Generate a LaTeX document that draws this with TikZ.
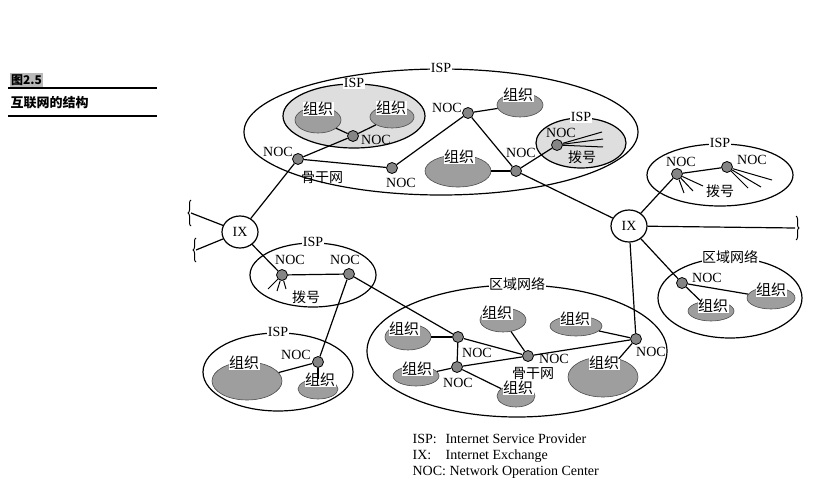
\documentclass[tikz,border=0pt]{standalone}
\usepackage{fontspec}
\setmainfont{Liberation Serif}
\newfontfamily\cjk{Noto Sans CJK SC}
\usetikzlibrary{shapes.geometric, decorations.pathreplacing, positioning}
\definecolor{orggray}{gray}{0.62}
\definecolor{ispgray}{gray}{0.87}
\definecolor{nocgray}{gray}{0.52}

\begin{document}
\begin{tikzpicture}[
    x=1pt, y=-1pt,
    line width=1.2pt,
    area/.style 2 args={draw, ellipse, inner sep=0pt, minimum width=#1pt, minimum height=#2pt},
    org/.style 2 args={draw=black!70, line width=0.6pt, ellipse, fill=orggray, inner sep=0pt, minimum width=#1pt, minimum height=#2pt},
    noc/.style={draw, circle, line width=0.8pt, fill=nocgray, minimum size=11pt, inner sep=0pt},
    ix/.style={draw, ellipse, minimum width=36pt, minimum height=32pt, inner sep=0pt, font=\fontsize{14}{16}\selectfont},
    lab/.style={font=\fontsize{14}{16}\selectfont, inner sep=0.5pt},
    zh/.style={font=\cjk\fontsize{14}{16}\selectfont, inner sep=0.5pt},
    orglab/.style={font=\cjk\fontsize{15}{17}\selectfont, fill=white, inner sep=0.5pt},
    tag/.style={fill=white, inner xsep=3pt, inner ysep=0.5pt},
    dial/.style={line width=1pt},
    cut/.style={decorate, decoration={brace, amplitude=3pt}, line width=1pt},
    legend/.style={font=\fontsize{14}{15}\selectfont, anchor=west, inner sep=0pt, text height=10pt, text depth=3pt}
]
    \useasboundingbox (0,0) rectangle (828,487);

    % Caption
    \node[fill=gray!55, inner sep=1.5pt, anchor=west, font=\cjk\bfseries\fontsize{12}{14}\selectfont] (fignum) at (9,80) {图2.5};
    \node[anchor=west, inner sep=0pt, font=\cjk\bfseries\fontsize{13}{15}\selectfont] (figtitle) at (10,103) {互联网的结构};
    \draw (8,88) -- (157,88);
    \draw (8,116) -- (157,116);

    % Backbone ISP (top)
    \node[area={394}{126}] (ispTop) at (441,132) {};
    \node[tag, lab] at (ispTop.north) {ISP};
    \node[area={142}{64}, fill=ispgray] (ispIn1) at (354,116) {};
    \node[tag, lab, fill=white] at (ispIn1.north) {ISP};
    \node[area={90}{50}, fill=ispgray] (ispIn2) at (581,143) {};
    \node[tag, lab] at (ispIn2.north) {ISP};

    \node[org={46}{26}] (orgA1) at (318,120) {};
    \node[orglab] at (318,109) {组织};
    \node[org={44}{22}] (orgA2) at (392,117) {};
    \node[orglab] at (391,108) {组织};
    \node[org={46}{24}] (orgA3) at (520,105) {};
    \node[orglab] at (518,95) {组织};
    \node[org={66}{32}] (orgA4) at (458,171) {};
    \node[orglab] at (459,157) {组织};

    \node[noc] (nocA1) at (353,136) {};
    \node[lab] at (376,140) {NOC};
    \node[noc] (nocA2) at (298,159) {};
    \node[lab] at (278,152) {NOC};
    \node[zh] at (322,177) {骨干网};
    \node[noc] (nocA3) at (392,168) {};
    \node[lab] at (401,183) {NOC};
    \node[noc] (nocA4) at (468,113) {};
    \node[lab] at (447,108) {NOC};
    \node[noc] (nocA5) at (516,171) {};
    \node[lab] at (521,153) {NOC};
    \node[noc] (nocA6) at (557,145) {};
    \node[lab] at (561,133) {NOC};
    \node[zh] at (582,157) {拨号};

    % Exchanges
    \node[ix] (ixL) at (240,232) {IX};
    \node[ix] (ixR) at (629,226) {IX};
    \coordinate (endL1) at (191,213);
    \coordinate (endL2) at (196,250);
    \coordinate (endR) at (795,228);

    % Dial-up ISP (left)
    \node[area={126}{64}] (ispL) at (313,275) {};
    \node[tag, lab] at (ispL.north) {ISP};
    \node[noc] (nocL1) at (282,275) {};
    \node[lab] at (290,260) {NOC};
    \node[noc] (nocL2) at (349,274) {};
    \node[lab] at (345,260) {NOC};
    \node[zh] at (306,297) {拨号};

    % ISP (bottom left)
    \node[area={150}{78}] (ispBL) at (278,372) {};
    \node[tag, lab] at (ispBL.north) {ISP};
    \node[org={70}{38}] (orgBL1) at (247,381) {};
    \node[orglab] at (244,363) {组织};
    \node[org={40}{20}] (orgBL2) at (318,389) {};
    \node[orglab] at (320,380) {组织};
    \node[noc] (nocBL) at (318,362) {};
    \node[lab] at (296,355) {NOC};

    % Regional network (bottom)
    \node[area={300}{132}] (regB) at (517,351) {};
    \node[tag, zh] at (regB.north) {区域网络};
    \node[org={46}{26}] (orgR1) at (408,337) {};
    \node[orglab] at (404,329) {组织};
    \node[org={46}{24}] (orgR2) at (503,320) {};
    \node[orglab] at (497,313) {组织};
    \node[org={52}{20}] (orgR3) at (576,326) {};
    \node[orglab] at (575,319) {组织};
    \node[org={46}{20}] (orgR4) at (416,376) {};
    \node[orglab] at (417,369) {组织};
    \node[org={38}{22}] (orgR5) at (516,396) {};
    \node[orglab] at (518,388) {组织};
    \node[org={70}{40}] (orgR6) at (603,377) {};
    \node[orglab] at (604,363) {组织};
    \node[noc] (nocR1) at (458,337) {};
    \node[lab] at (477,353) {NOC};
    \node[noc] (nocR2) at (457,367) {};
    \node[lab] at (458,383) {NOC};
    \node[noc] (nocR3) at (528,356) {};
    \node[lab] at (554,359) {NOC};
    \node[zh] at (533,373) {骨干网};
    \node[noc] (nocR4) at (636,339) {};
    \node[lab] at (651,352) {NOC};

    % Dial-up ISP (right)
    \node[area={146}{62}] (ispR) at (720,175) {};
    \node[tag, lab] at (ispR.north) {ISP};
    \node[noc] (nocRt1) at (677,174) {};
    \node[lab] at (681,162) {NOC};
    \node[noc] (nocRt2) at (727,167) {};
    \node[lab] at (752,160) {NOC};
    \node[zh] at (720,191) {拨号};

    % Regional network (right)
    \node[area={144}{80}] (regR) at (730,298) {};
    \node[tag, zh] at (regR.north) {区域网络};
    \node[org={46}{20}] (orgRR1) at (711,311) {};
    \node[orglab] at (713,306) {组织};
    \node[org={48}{22}] (orgRR2) at (771,298) {};
    \node[orglab] at (771,290) {组织};
    \node[noc] (nocRR) at (682,283) {};
    \node[lab] at (707,278) {NOC};

    % Links
    \draw (orgA1) -- (nocA1);
    \draw (orgA2) -- (nocA1);
    \draw (nocA2) -- (nocA1);
    \draw (nocA2) -- (nocA3);
    \draw (nocA3) -- (nocA4);
    \draw (nocA4) -- (orgA3);
    \draw (nocA4) -- (nocA5);
    \draw (orgA4) -- (nocA5);
    \draw (nocA5) -- (nocA6);
    \draw (nocA5) -- (ixR);
    \draw (ixL) -- (nocA2);
    \draw (ixL) -- (nocL1);
    \draw (ixL) -- (endL1);
    \draw (ixL) -- (endL2);
    \draw (ixR) -- (endR);
    \draw (ixR) -- (nocRt1);
    \draw (ixR) -- (nocR4);
    \draw (ixR) -- (nocRR);
    \draw (nocL1) -- (nocL2);
    \draw (nocL2) -- (nocBL);
    \draw (nocL2) -- (nocR1);
    \draw (nocBL) -- (orgBL1);
    \draw (nocBL) -- (orgBL2);
    \draw (orgR1) -- (nocR1);
    \draw (nocR1) -- (nocR2);
    \draw (nocR1) -- (nocR3);
    \draw (nocR2) -- (orgR4);
    \draw (nocR2) -- (nocR3);
    \draw (nocR2) -- (orgR5);
    \draw (orgR2) -- (nocR3);
    \draw (nocR3) -- (nocR4);
    \draw (orgR3) -- (nocR4);
    \draw (nocR4) -- (orgR6);
    \draw (nocRt1) -- (nocRt2);
    \draw (nocRR) -- (orgRR1);
    \draw (nocRR) -- (orgRR2);

    % Dial-up lines
    \foreach \dx/\dy in {45/-13, 46/-6, 46/2}
        \draw[dial] (nocA6) -- ++(\dx,\dy);
    \foreach \dx/\dy in {-14/14, -5/16, 4/14}
        \draw[dial] (nocL1) -- ++(\dx,\dy);
    \foreach \dx/\dy in {7/19, 16/17, 26/12}
        \draw[dial] (nocRt1) -- ++(\dx,\dy);
    \foreach \dx/\dy in {21/21, 34/20, 45/13}
        \draw[dial] (nocRt2) -- ++(\dx,\dy);

    % Cut-off ends
    \draw[cut] (191,226) -- (191,200);
    \draw[cut] (196,262) -- (196,238);
    \draw[cut] (796,216) -- (796,240);

    % Legend
    \node[legend] (lgIsp) at (412,440) {\makebox[33pt][l]{ISP:}Internet Service Provider};
    \node[legend, below=2pt of lgIsp.south west, anchor=north west] (lgIx) {\makebox[33pt][l]{IX:}Internet Exchange};
    \node[legend, below=2pt of lgIx.south west, anchor=north west] (lgNoc) {NOC: Network Operation Center};
\end{tikzpicture}
\end{document}
